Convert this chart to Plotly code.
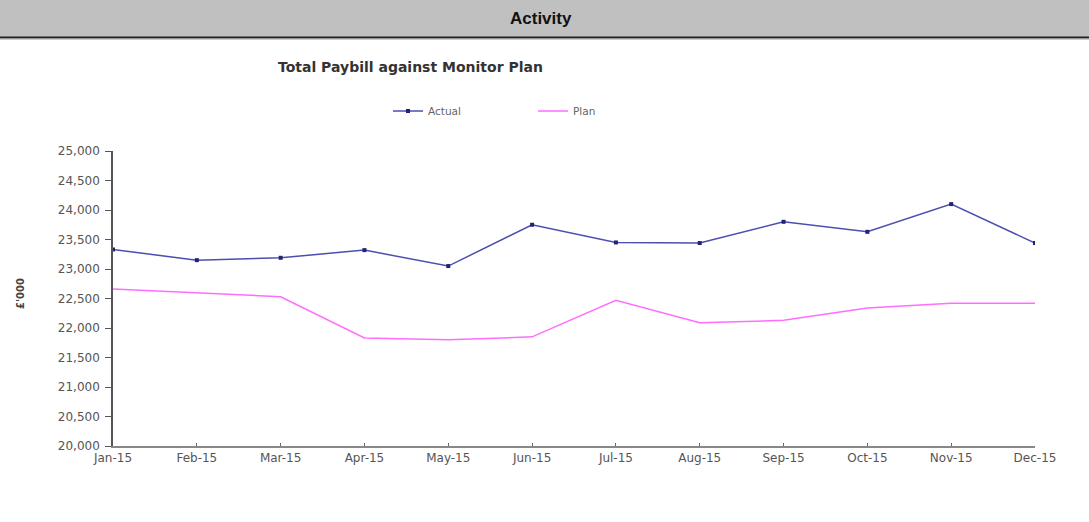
import plotly.graph_objects as go

months = ["Jan-15", "Feb-15", "Mar-15", "Apr-15", "May-15", "Jun-15",
          "Jul-15", "Aug-15", "Sep-15", "Oct-15", "Nov-15", "Dec-15"]
actual = [23330, 23150, 23190, 23320, 23050, 23750, 23450, 23440, 23800, 23630, 24100, 23440]
plan = [22660, 22590, 22530, 21830, 21800, 21850, 22470, 22090, 22130, 22340, 22420, 22420]
y_ticks = [20000, 20500, 21000, 21500, 22000, 22500, 23000, 23500, 24000, 24500, 25000]

W, H = 1089, 522
L, R, T, B = 113, 54, 151, 76
PW, PH = W - L - R, H - T - B


def px(x):
    return (x - L) / PW


def py(y):
    return (H - B - y) / PH


font = "Liberation Sans, Arial, sans-serif"
wide = "DejaVu Sans, Verdana, sans-serif"

fig = go.Figure()
fig.add_trace(go.Scatter(
    x=list(range(len(months))), y=actual, name="Actual", mode="lines+markers",
    line=dict(color="#4b4fae", width=1.5),
    marker=dict(symbol="square", size=4, color="#1f237a"),
))
fig.add_trace(go.Scatter(
    x=list(range(len(months))), y=plan, name="Plan", mode="lines",
    line=dict(color="#ff6dff", width=1.5),
))

fig.update_layout(
    width=W, height=H,
    margin=dict(l=L, r=R, t=T, b=B),
    paper_bgcolor="white", plot_bgcolor="white",
    font=dict(family=wide, size=10, color="#444"),
    showlegend=True,
    legend=dict(orientation="h", x=px(388), y=py(111), xanchor="left", yanchor="middle",
                entrywidth=100, entrywidthmode="pixels",
                font=dict(size=10.5, color="#666", family=wide), bgcolor="rgba(0,0,0,0)"),
    xaxis=dict(
        range=[0, len(months) - 1], tickmode="array",
        tickvals=list(range(len(months))), ticktext=months,
        showgrid=False, zeroline=False, showline=True, linecolor="#888", linewidth=1.5,
        ticks="inside", ticklen=3, tickcolor="#666",
        tickfont=dict(size=12, color="#555", family=wide),
    ),
    yaxis=dict(
        range=[20000, 25000], tickmode="array", tickvals=y_ticks,
        ticktext=[f"{v:,}" for v in y_ticks],
        showgrid=False, zeroline=False, showline=True, linecolor="#555", linewidth=1.5,
        ticks="outside", ticklen=6, tickcolor="#555", ticklabelstandoff=3,
        tickfont=dict(size=12, color="#555", family=wide),
    ),
    shapes=[
        dict(type="rect", xref="paper", yref="paper", x0=px(0), x1=px(W), y0=py(37), y1=py(0),
             fillcolor="#c0c0c0", line=dict(width=0), layer="below"),
        dict(type="line", xref="paper", yref="paper", x0=px(0), x1=px(W), y0=py(37.5), y1=py(37.5),
             line=dict(color="#222", width=2)),
        dict(type="line", xref="paper", yref="paper", x0=px(0), x1=px(W), y0=py(39), y1=py(39),
             line=dict(color="#999", width=1)),
    ],
    annotations=[
        dict(text="<b>Activity</b>", xref="paper", yref="paper", x=px(541), y=py(18),
             showarrow=False, font=dict(size=17, color="#111", family=font),
             xanchor="center", yanchor="middle"),
        dict(text="<b>Total Paybill against Monitor Plan</b>", xref="paper", yref="paper",
             x=px(410), y=py(67), showarrow=False, font=dict(size=14, color="#333", family=wide),
             xanchor="center", yanchor="middle"),
        dict(text="<b>£'000</b>", xref="paper", yref="paper", x=px(20), y=py(294),
             showarrow=False, textangle=-90, font=dict(size=10, color="#444", family=wide),
             xanchor="center", yanchor="middle"),
    ],
)

fig.write_html("out.html")
